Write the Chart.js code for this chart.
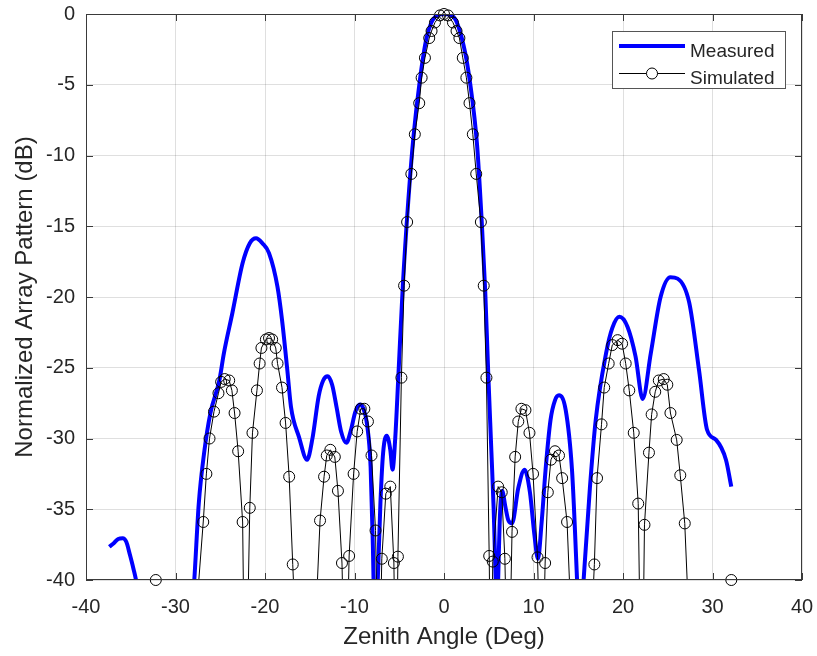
<!DOCTYPE html>
<html>
<head>
<meta charset="utf-8">
<script src="https://cdn.jsdelivr.net/npm/chart.js@4.4.0/dist/chart.umd.min.js"></script>
<style>
  html, body { margin: 0; padding: 0; background: #fff; }
</style>
</head>
<body>
<canvas id="patternChart" width="817" height="656"></canvas>
<script>
// measured pattern (values under -40 are off the plot and get clipped)
const measuredX = [
  -37.4, -36.9, -36.4, -35.9, -35.5, -35.1, -34.7, -34.3, -34.0, -31.0,
  -28.2, -27.9, -27.4, -26.8, -26.1, -25.1, -24.6, -23.65, -22.5, -21.7,
  -21.0, -20.3, -19.55, -18.6, -18.1, -17.5, -17.1, -16.2, -15.3, -14.7,
  -14.0, -13.5, -13.0, -12.5, -12.0, -11.5, -10.9, -10.4, -9.9, -9.4,
  -9.0, -8.6, -8.2, -7.95, -7.65, -7.4, -7.1, -6.8, -6.4, -6.0,
  -5.75, -5.45, -5.1, -4.6, -4.0, -3.4, -2.7, -1.95, -1.0, 0,
  1.05, 2.2, 2.9, 3.7, 4.2, 4.6, 4.95, 5.3, 5.55, 5.8,
  5.92, 6.05, 6.25, 6.5, 6.85, 7.2, 7.6, 8.3, 9.0, 9.6,
  10.1, 10.5, 10.9, 11.35, 11.9, 12.4, 12.85, 13.6, 14.3, 14.6,
  14.9, 15.2, 15.6, 16.3, 16.95, 18.1, 18.8, 19.6, 20.5, 21.4,
  22.2, 23.1, 24.2, 25.3, 26.1, 27.4, 28.5, 29.4, 30.4, 31.5,
  32.1
]
const measuredY = [
  -37.65, -37.4, -37.1, -37.05, -37.3, -38.2, -39.2, -40.4, -42, -50,
  -42.5, -40, -34.6, -31.0, -28.2, -25.9, -24.0, -21.15, -17.6, -16.2,
  -15.85, -16.2, -16.9, -19.3, -21.6, -25.2, -27.75, -29.9, -31.5, -30.0,
  -27.0, -25.9, -25.6, -26.2, -27.8, -29.5, -30.3, -29.4, -28.1, -27.6,
  -27.9, -29.0, -32.0, -37.5, -46, -40, -34.5, -31.0, -29.8, -30.8,
  -32.2, -30.0, -25.6, -19.2, -13.3, -8.6, -4.7, -1.7, -0.2, 0,
  -0.2, -2.25, -4.8, -9.3, -14.5, -19.5, -25.5, -31.0, -35.0, -40.5,
  -43, -40, -35.5, -33.7, -34.8, -35.8, -36.0, -33.5, -32.2, -33.8,
  -36.8, -38.5, -36.0, -32.2, -28.7, -27.3, -26.95, -28.0, -32.2, -36.0,
  -40.5, -44, -40, -33.5, -28.7, -24.0, -22.2, -21.4, -22.1, -24.2,
  -27.2, -24.0, -20.0, -18.6, -18.7, -20.4, -25.2, -29.4, -30.1, -31.5,
  -33.4
]

// simulated pattern
const simX = [
  -32.2, -29.5, -27.6, -26.9, -26.55, -26.2, -25.7, -25.2, -24.9, -24.5,
  -24.0, -23.7, -23.4, -23.0, -22.5, -22.2, -21.7, -21.4, -20.9, -20.6,
  -20.4, -19.9, -19.55, -19.2, -18.8, -18.6, -18.1, -17.7, -17.3, -16.9,
  -15.5, -13.85, -13.4, -13.1, -12.7, -12.2, -11.85, -11.4, -11.0, -10.6,
  -10.1, -9.7, -9.3, -8.9, -8.5, -8.1, -7.65, -7.3, -6.95, -6.5,
  -6.0, -5.6, -5.35, -5.15, -4.76, -4.46, -4.12, -3.65, -3.26, -2.77,
  -2.5, -2.13, -1.65, -1.39, -1.01, -0.45, 0, 0.45, 1.0, 1.4,
  1.72, 2.1, 2.5, 2.85, 3.22, 3.6, 4.12, 4.44, 4.74, 5.05,
  5.25, 5.45, 6.05, 6.45, 6.8, 7.2, 7.6, 7.95, 8.3, 8.65,
  9.1, 9.55, 9.95, 10.45, 10.9, 11.3, 11.6, 11.95, 12.4, 12.85,
  13.2, 13.75, 15.3, 16.8, 17.1, 17.6, 17.9, 18.4, 18.8, 19.4,
  19.9, 20.3, 20.7, 21.2, 21.7, 22.1, 22.4, 22.9, 23.2, 23.6,
  24.0, 24.55, 24.95, 25.3, 26.0, 26.4, 26.9, 27.5, 29.5, 32.1
]
const simY = [
  -40.0, -60, -41.7, -35.9, -32.5, -30.0, -28.1, -26.8, -26.0, -25.8,
  -25.9, -26.6, -28.2, -30.9, -35.9, -52, -34.9, -29.6, -26.6, -24.7,
  -23.6, -23.0, -22.9, -23.0, -23.6, -24.7, -26.4, -28.9, -32.7, -38.9,
  -60, -35.8, -32.7, -31.2, -30.8, -31.3, -33.7, -38.8, -50, -38.3,
  -32.5, -29.5, -27.9, -27.9, -28.8, -31.2, -36.5, -50, -38.5, -33.9,
  -33.4, -38.8, -50, -38.35, -25.7, -19.2, -14.7, -11.3, -8.5, -6.3,
  -4.5, -3.1, -1.7, -1.2, -0.6, -0.1, 0, -0.1, -0.6, -1.2,
  -1.7, -3.1, -4.5, -6.3, -8.5, -11.3, -14.7, -19.2, -25.7, -38.3,
  -50, -38.7, -33.4, -33.8, -38.5, -50, -36.6, -31.3, -28.8, -27.9,
  -28.0, -29.6, -32.5, -38.4, -50, -38.8, -33.8, -31.5, -30.9, -31.2,
  -32.8, -35.9, -60, -38.9, -32.8, -29.0, -26.4, -24.7, -23.4, -23.05,
  -23.3, -24.7, -26.6, -29.6, -34.6, -52, -36.1, -31.0, -28.3, -26.7,
  -25.9, -25.8, -26.2, -28.2, -30.1, -32.6, -36.0, -45, -60, -40.0
]

const xTicks = [-40, -30, -20, -10, 0, 10, 20, 30, 40]
const yTicks = [-40, -35, -30, -25, -20, -15, -10, -5, 0]
const legendNames = ['Measured', 'Simulated']

const FONT = "'Liberation Sans', Arial, Helvetica, sans-serif"
const TEXT = '#262626'

const toPoints = (xs, ys) => xs.map((x, i) => ({x: x, y: ys[i]}))
const simPoints = toPoints(simX, simY)

// box round the axes with inward ticks, like matlab
const framePlugin = {
  id: 'frame',
  afterDraw(chart) {
    const {ctx, chartArea: a, scales} = chart
    ctx.save()
    ctx.strokeStyle = '#3a3a3a'
    ctx.lineWidth = 1
    ctx.beginPath()
    xTicks.forEach(v => {
      const px = Math.round(scales.x.getPixelForValue(v)) + 0.5
      ctx.moveTo(px, a.bottom); ctx.lineTo(px, a.bottom - 7)
      ctx.moveTo(px, a.top); ctx.lineTo(px, a.top + 7)
    })
    yTicks.forEach(v => {
      const py = Math.round(scales.y.getPixelForValue(v)) + 0.5
      ctx.moveTo(a.left, py); ctx.lineTo(a.left + 7, py)
      ctx.moveTo(a.right, py); ctx.lineTo(a.right - 7, py)
    })
    ctx.stroke()
    ctx.strokeRect(Math.round(a.left) + 0.5, Math.round(a.top) + 0.5,
      Math.round(a.width) - 1, Math.round(a.height) - 1)
    ctx.restore()
  }
}

const legendPlugin = {
  id: 'boxLegend',
  afterDatasetsDraw(chart) {
    const ctx = chart.ctx
    ctx.save()
    ctx.fillStyle = '#fff'
    ctx.fillRect(612.5, 31.5, 173, 57)
    ctx.strokeStyle = '#555'
    ctx.lineWidth = 1
    ctx.strokeRect(612.5, 31.5, 173, 57)

    ctx.strokeStyle = '#0000ff'
    ctx.lineWidth = 4
    ctx.beginPath(); ctx.moveTo(619, 46); ctx.lineTo(685, 46); ctx.stroke()

    ctx.strokeStyle = '#000'
    ctx.lineWidth = 1
    ctx.beginPath(); ctx.moveTo(619, 73.5); ctx.lineTo(685, 73.5); ctx.stroke()
    ctx.fillStyle = '#fff'
    ctx.beginPath(); ctx.arc(652, 73.5, 5.5, 0, Math.PI * 2); ctx.fill(); ctx.stroke()

    ctx.fillStyle = TEXT
    ctx.font = '19px ' + FONT
    ctx.textBaseline = 'alphabetic'
    ctx.textAlign = 'left'
    ctx.fillText(legendNames[0], 690, 56.5)
    ctx.fillText(legendNames[1], 690, 83.5)
    ctx.restore()
  }
}

new Chart(document.getElementById('patternChart'), {
  type: 'scatter',
  data: {
    datasets: [{
      label: legendNames[1],
      data: simPoints.filter(p => p.y >= -40),
      showLine: false,
      pointRadius: 5.5,
      pointBorderWidth: 1,
      pointBorderColor: '#000',
      pointBackgroundColor: 'rgba(0,0,0,0)',
      clip: false,
      order: 1
    }, {
      label: legendNames[1] + ' line',
      data: simPoints,
      showLine: true,
      borderColor: '#000',
      borderWidth: 1,
      pointRadius: 0,
      tension: 0,
      order: 2
    }, {
      label: legendNames[0],
      data: toPoints(measuredX, measuredY),
      showLine: true,
      borderColor: '#0000ff',
      borderWidth: 4,
      pointRadius: 0,
      cubicInterpolationMode: 'monotone',
      order: 3
    }]
  },
  options: {
    responsive: false,
    animation: false,
    layout: {padding: {left: 0, right: 15, top: 14, bottom: 0}},
    plugins: {
      legend: {display: false},
      tooltip: {enabled: false}
    },
    scales: {
      x: {
        type: 'linear',
        min: -40,
        max: 40,
        afterFit: function(scale) {
          scale.height = 76
          scale.paddingLeft = 0
          scale.paddingRight = 0
        },
        afterBuildTicks: function(scale) { scale.ticks = xTicks.map(v => ({value: v})) },
        border: {display: false},
        grid: {color: 'rgba(38,38,38,0.15)', drawTicks: false},
        ticks: {color: TEXT, padding: 15, font: {family: FONT, size: 20}},
        title: {
          display: true,
          text: 'Zenith Angle (Deg)',
          color: TEXT,
          font: {family: FONT, size: 24},
          padding: {top: 0, bottom: 4}
        }
      },
      y: {
        type: 'linear',
        min: -40,
        max: 0,
        afterFit: function(scale) {
          scale.width = 86
          scale.paddingTop = 0
          scale.paddingBottom = 0
        },
        afterBuildTicks: function(scale) { scale.ticks = yTicks.map(v => ({value: v})) },
        border: {display: false},
        grid: {color: 'rgba(38,38,38,0.15)', drawTicks: false},
        ticks: {color: TEXT, padding: 11, font: {family: FONT, size: 20}},
        title: {
          display: true,
          text: 'Normalized Array Pattern (dB)',
          color: TEXT,
          font: {family: FONT, size: 24},
          padding: {top: 10.5, bottom: 0}
        }
      }
    }
  },
  plugins: [legendPlugin, framePlugin]
});
</script>
</body>
</html>
